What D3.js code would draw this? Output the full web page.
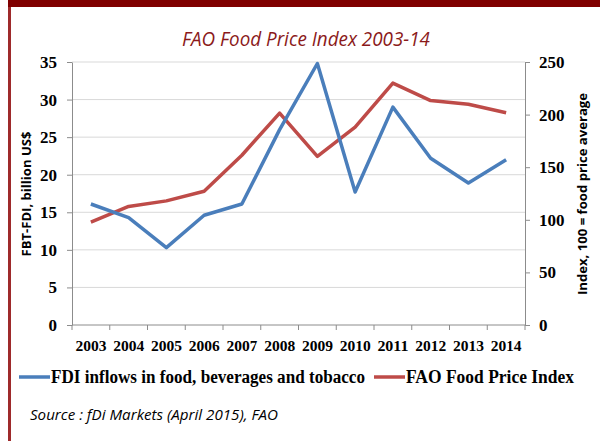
<!DOCTYPE html>
<html>
<head>
<meta charset="utf-8">
<script src="https://cdn.jsdelivr.net/npm/d3@7"></script>
<style>
  body { margin: 0; background: #fff; }
  svg { display: block; }
</style>
</head>
<body>
<script>
// Chart data
var years = ["2003", "2004", "2005", "2006", "2007", "2008", "2009", "2010", "2011", "2012", "2013", "2014"];
var fdiValues = [16.1, 14.3, 10.3, 14.6, 16.1, 26.0, 34.8, 17.7, 29.0, 22.2, 18.9, 22.0];   // billion US$
var priceIndex = [97.7, 112.7, 118.0, 127.2, 161.4, 201.4, 160.3, 188.0, 229.9, 213.3, 209.8, 201.8];
var leftTicks = [0, 5, 10, 15, 20, 25, 30, 35];
var rightTicks = [0, 50, 100, 150, 200, 250];
var seriesNames = ["FDI inflows in food, beverages and tobacco", "FAO Food Price  Index"];

var width = 600, height = 441;
var margin = {top: 62, right: 75, bottom: 116, left: 72};

var svg = d3.select("body").append("svg")
    .attr("width", width)
    .attr("height", height);

// Frame: dark red top bar and left rule
svg.append("rect").attr("x", 8).attr("y", 0).attr("width", width - 8).attr("height", 7).attr("fill", "#800000");
svg.append("rect").attr("x", 8).attr("y", 7).attr("width", 3).attr("height", height - 7).attr("fill", "#9e2a2b");

// Title
svg.append("text")
    .attr("x", 306).attr("y", 46)
    .attr("text-anchor", "middle")
    .attr("font-family", "'Open Sans', sans-serif")
    .attr("font-style", "italic")
    .attr("font-size", 20)
    .attr("textLength", 248)
    .attr("lengthAdjust", "spacingAndGlyphs")
    .attr("fill", "#8b1a1a")
    .text("FAO Food Price Index 2003-14");

var x = d3.scaleBand().domain(years).range([margin.left, width - margin.right]);
var yLeft = d3.scaleLinear().domain([0, 35]).range([height - margin.bottom, margin.top]);
var yRight = d3.scaleLinear().domain([0, 250]).range([height - margin.bottom, margin.top]);

// Gridlines follow the left axis
svg.append("g").selectAll("line")
    .data(leftTicks.slice(1))
    .enter().append("line")
    .attr("x1", margin.left).attr("x2", width - margin.right)
    .attr("y1", function(d) { return yLeft(d); })
    .attr("y2", function(d) { return yLeft(d); })
    .attr("stroke", "#d9d9d9").attr("stroke-width", 1);

function styleAxis(g, size) {
    g.selectAll("path, line").attr("stroke", "#8c8c8c").attr("stroke-width", 1);
    g.selectAll("text")
        .attr("font-family", "'Liberation Serif', 'Times New Roman', serif")
        .attr("font-weight", "bold")
        .attr("font-size", size)
        .attr("fill", "#000");
}

// Left axis
var gl = svg.append("g")
    .attr("transform", "translate(" + margin.left + ",0)")
    .call(d3.axisLeft(yLeft).tickValues(leftTicks).tickSize(5).tickSizeOuter(0).tickPadding(10));
gl.call(styleAxis, 17);

// Right axis
var gr = svg.append("g")
    .attr("transform", "translate(" + (width - margin.right) + ",0)")
    .call(d3.axisRight(yRight).tickValues(rightTicks).tickSize(5).tickSizeOuter(0).tickPadding(9));
gr.call(styleAxis, 17);

// Bottom axis: ticks at band boundaries, labels at band centres
var bottomY = height - margin.bottom;
var gb = svg.append("g");
gb.append("line")
    .attr("x1", margin.left).attr("x2", width - margin.right)
    .attr("y1", bottomY).attr("y2", bottomY);
gb.selectAll(".tk")
    .data(years.concat(["end"]))
    .enter().append("line")
    .attr("class", "tk")
    .attr("x1", function(d, i) { return margin.left + i * x.bandwidth(); })
    .attr("x2", function(d, i) { return margin.left + i * x.bandwidth(); })
    .attr("y1", bottomY).attr("y2", bottomY + 5);
gb.selectAll("text")
    .data(years)
    .enter().append("text")
    .attr("x", function(d) { return x(d) + x.bandwidth() / 2; })
    .attr("y", bottomY + 26)
    .attr("text-anchor", "middle")
    .attr("textLength", 31)
    .attr("lengthAdjust", "spacingAndGlyphs")
    .text(function(d) { return d; });
gb.call(styleAxis, 14);

// Axis titles
svg.append("text")
    .attr("transform", "translate(31," + 194 + ") rotate(-90)")
    .attr("text-anchor", "middle")
    .attr("font-family", "'Open Sans', sans-serif")
    .attr("font-weight", "bold")
    .attr("font-size", 12)
    .attr("textLength", 125)
    .attr("lengthAdjust", "spacingAndGlyphs")
    .text("FBT-FDI, billion US$");
svg.append("text")
    .attr("transform", "translate(587," + 194 + ") rotate(-90)")
    .attr("text-anchor", "middle")
    .attr("font-family", "'Open Sans', sans-serif")
    .attr("font-weight", "bold")
    .attr("font-size", 12)
    .attr("textLength", 202)
    .attr("lengthAdjust", "spacingAndGlyphs")
    .text("Index, 100 = food price average");

// Series lines
var mid = function(d, i) { return x(years[i]) + x.bandwidth() / 2; };
var fdiLine = d3.line().x(mid).y(function(d) { return yLeft(d); });
var priceLine = d3.line().x(mid).y(function(d) { return yRight(d); });

svg.append("path").datum(priceIndex)
    .attr("d", priceLine)
    .attr("fill", "none").attr("stroke", "#be4b48").attr("stroke-width", 3.5)
    .attr("stroke-linejoin", "round");
svg.append("path").datum(fdiValues)
    .attr("d", fdiLine)
    .attr("fill", "none").attr("stroke", "#4a7ebb").attr("stroke-width", 3.5)
    .attr("stroke-linejoin", "round");

// Legend
var legend = [
    {name: seriesNames[0], color: "#4a7ebb", x: 19, len: 314},
    {name: seriesNames[1], color: "#be4b48", x: 374, len: 168}
];
var lg = svg.append("g").selectAll("g").data(legend).enter().append("g");
lg.append("line")
    .attr("x1", function(d) { return d.x; })
    .attr("x2", function(d) { return d.x + 31; })
    .attr("y1", 377).attr("y2", 377)
    .attr("stroke", function(d) { return d.color; })
    .attr("stroke-width", 3.5);
lg.append("text")
    .attr("x", function(d) { return d.x + 32; })
    .attr("y", 383)
    .attr("font-family", "'Liberation Serif', 'Times New Roman', serif")
    .attr("font-weight", "bold")
    .attr("font-size", 18)
    .attr("textLength", function(d) { return d.len; })
    .attr("lengthAdjust", "spacingAndGlyphs")
    .text(function(d) { return d.name; });

// Source note
svg.append("text")
    .attr("x", 30).attr("y", 420)
    .attr("font-family", "'Open Sans', sans-serif")
    .attr("font-style", "italic")
    .attr("font-size", 15)
    .attr("textLength", 248)
    .attr("lengthAdjust", "spacingAndGlyphs")
    .text("Source : fDi Markets (April 2015), FAO");
</script>
</body>
</html>
